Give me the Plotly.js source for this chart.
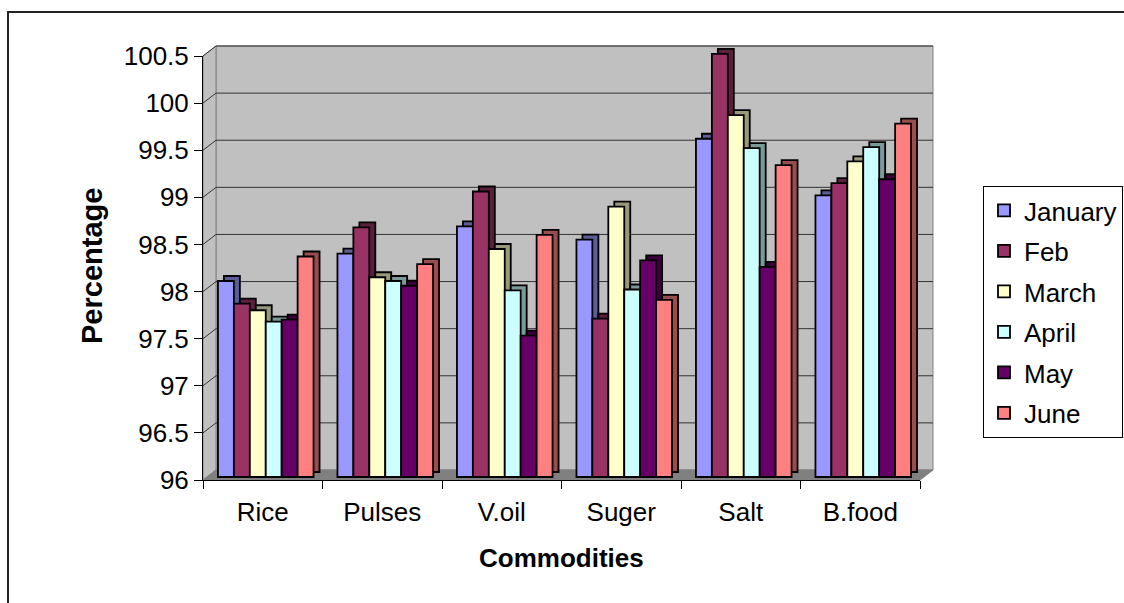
<!DOCTYPE html>
<html>
<head>
<meta charset="utf-8">
<script src="https://cdn.plot.ly/plotly-3.0.1.min.js"></script>
<style>html,body{margin:0;padding:0;background:#fff;}#chart{width:1124px;height:603px;}</style>
</head>
<body>
<div id="chart"></div>
<script>
// ---- data ----
const categories = ["Rice", "Pulses", "V.oil", "Suger", "Salt", "B.food"];
const seriesNames = ["January", "Feb", "March", "April", "May", "June"];
const january = [98.08, 98.37, 98.66, 98.52, 99.59, 98.99];
const feb     = [97.84, 98.65, 99.03, 97.68, 100.49, 99.12];
const march   = [97.77, 98.12, 98.42, 98.87, 99.84, 99.35];
const april   = [97.65, 98.08, 97.98, 97.99, 99.49, 99.50];
const may     = [97.67, 98.03, 97.50, 98.30, 98.23, 99.16];
const june    = [98.34, 98.26, 98.57, 97.88, 99.31, 99.75];
const yTickVals = [96, 96.5, 97, 97.5, 98, 98.5, 99, 99.5, 100, 100.5];
const yTickText = ["96", "96.5", "97", "97.5", "98", "98.5", "99", "99.5", "100", "100.5"];
const frontColors = ["#9999FF", "#993366", "#FFFFCC", "#CCFFFF", "#660066", "#FF8080"];
const sideColors  = ["#5c5c99", "#5c1f3d", "#99997a", "#7a9999", "#3d003d", "#994d4d"];

const seriesValues = [january, feb, march, april, may, june];

// ---- geometry (pixels) ----
const W = 1124, H = 603;
const fx = p => p / W, fy = p => 1 - p / H;
const AX_L = 203, AX_R = 920, Y_BOT = 480, Y_TOP = 56;
const YMIN = 96, YMAX = 100.5;
const K = (Y_BOT - Y_TOP) / (YMAX - YMIN);       // px per unit
const CAT = (AX_R - AX_L) / categories.length;   // px per category
const WALL_DX = 13, WALL_DY = 10;
const FACE_DX = 3, FACE_DY = 3;     // front face of bars
const DEPTH_DX = 6, DEPTH_DY = 5;   // bar depth
const BAR_L = 190, BAR_R = 950, BAR_TOP = 25;

function xRange(shiftPx) {
  return [(BAR_L - AX_L - shiftPx) / CAT - 0.5, (BAR_R - AX_L - shiftPx) / CAT - 0.5];
}
function yRange(shiftPx) {
  const r0 = YMIN - shiftPx / K;
  return [r0, r0 + (Y_BOT - BAR_TOP) / K];
}

const traces = [];
// invisible helper so that the front axis frame is drawn
traces.push({type: 'scatter', x: [0], y: [YMIN], mode: 'none', xaxis: 'x', yaxis: 'y',
  showlegend: false, hoverinfo: 'skip'});
// back (depth) bars
seriesValues.forEach((vals, i) => {
  traces.push({
    type: 'bar', x: categories, y: vals.map(v => v - YMIN), base: YMIN,
    xaxis: 'x2', yaxis: 'y2', showlegend: false, hoverinfo: 'skip',
    marker: {color: sideColors[i], line: {color: '#000', width: 1.8}}
  });
});
// front bars
seriesValues.forEach((vals, i) => {
  traces.push({
    type: 'bar', name: seriesNames[i], x: categories, y: vals.map(v => v - YMIN), base: YMIN,
    xaxis: 'x3', yaxis: 'y3', legendgroup: 'g' + i,
    customdata: vals, hovertemplate: '%{x}: %{customdata}<extra>' + seriesNames[i] + '</extra>',
    marker: {color: frontColors[i], line: {color: '#000', width: 1.8}}
  });
});

// decorative walls/floor
const shapes = [];
const P = (x, y) => fx(x).toFixed(5) + ',' + fy(y).toFixed(5);
const yPix = v => Y_BOT - (v - YMIN) * K;
shapes.push({type: 'path', xref: 'paper', yref: 'paper', layer: 'below',
  path: 'M' + P(AX_L + WALL_DX, Y_TOP - WALL_DY) + 'L' + P(AX_R + WALL_DX, Y_TOP - WALL_DY) + 'L' + P(AX_R + WALL_DX, Y_BOT - WALL_DY) + 'L' + P(AX_L + WALL_DX, Y_BOT - WALL_DY) + 'Z',
  fillcolor: '#C0C0C0', line: {color: '#808080', width: 1}});
shapes.push({type: 'path', xref: 'paper', yref: 'paper', layer: 'below',
  path: 'M' + P(AX_L, Y_TOP) + 'L' + P(AX_L + WALL_DX, Y_TOP - WALL_DY) + 'L' + P(AX_L + WALL_DX, Y_BOT - WALL_DY) + 'L' + P(AX_L, Y_BOT) + 'Z',
  fillcolor: '#C0C0C0', line: {color: '#808080', width: 1}});
shapes.push({type: 'path', xref: 'paper', yref: 'paper', layer: 'below',
  path: 'M' + P(AX_L, Y_BOT) + 'L' + P(AX_L + WALL_DX, Y_BOT - WALL_DY) + 'L' + P(AX_R + WALL_DX, Y_BOT - WALL_DY) + 'L' + P(AX_R, Y_BOT) + 'Z',
  fillcolor: '#808080', line: {color: '#808080', width: 1}});
yTickVals.forEach(v => {
  if (v === YMIN) return;
  const yp = yPix(v);
  shapes.push({type: 'line', xref: 'paper', yref: 'paper', layer: 'below',
    x0: fx(AX_L + WALL_DX), x1: fx(AX_R + WALL_DX), y0: fy(yp - WALL_DY), y1: fy(yp - WALL_DY),
    line: {color: '#333', width: 1}});
  shapes.push({type: 'line', xref: 'paper', yref: 'paper', layer: 'below',
    x0: fx(AX_L), x1: fx(AX_L + WALL_DX), y0: fy(yp), y1: fy(yp - WALL_DY),
    line: {color: '#333', width: 1}});
});
// outer chart frame
shapes.push({type: 'rect', xref: 'paper', yref: 'paper', layer: 'below',
  x0: fx(8), y0: fy(12), x1: 1.2, y1: -0.2, line: {color: '#222', width: 2}});

const font = {family: '"Liberation Sans", Arial, sans-serif', color: '#000'};
const tickFont = Object.assign({}, font, {size: 26});

const layout = {
  width: W, height: H,
  margin: {l: 0, r: 0, t: 0, b: 0, autoexpand: false},
  paper_bgcolor: '#fff', plot_bgcolor: 'rgba(0,0,0,0)',
  font: font,
  barmode: 'group', bargap: 0.2, bargroupgap: 0,
  showlegend: true,
  legend: {x: fx(983), y: fy(186), xanchor: 'left', yanchor: 'top',
    bordercolor: '#000', borderwidth: 1, bgcolor: '#fff',
    font: Object.assign({}, font, {size: 26}), tracegroupgap: 3.7, traceorder: 'grouped'},
  xaxis: {domain: [fx(AX_L), fx(AX_R)], range: [-0.5, categories.length - 0.5],
    tickvals: categories.map((c, i) => i), ticktext: categories, ticks: '',
    ticklabelstandoff: 9,
    minor: {tickvals: categories.map((c, i) => i - 0.5).concat([categories.length - 0.5]), ticks: 'outside', ticklen: 8, tickcolor: '#000', showgrid: false},
    showline: true, linecolor: '#000', linewidth: 1, showgrid: false, zeroline: false,
    tickfont: tickFont, anchor: 'y', fixedrange: true},
  yaxis: {domain: [fy(Y_BOT), fy(Y_TOP)], range: [YMIN, YMAX],
    tickvals: yTickVals, ticktext: yTickText, ticks: 'outside', ticklen: 8, tickcolor: '#000',
    showline: true, linecolor: '#000', linewidth: 1, showgrid: false, zeroline: false,
    tickfont: tickFont, anchor: 'x', fixedrange: true},
  xaxis2: {domain: [fx(BAR_L), fx(BAR_R)], range: xRange(FACE_DX + DEPTH_DX), type: 'category',
    visible: false, anchor: 'y2', fixedrange: true},
  yaxis2: {domain: [fy(Y_BOT), fy(BAR_TOP)], range: yRange(FACE_DY + DEPTH_DY),
    visible: false, anchor: 'x2', fixedrange: true},
  xaxis3: {domain: [fx(BAR_L), fx(BAR_R)], range: xRange(FACE_DX), type: 'category',
    visible: false, anchor: 'y3', overlaying: 'x2', fixedrange: true},
  yaxis3: {domain: [fy(Y_BOT), fy(BAR_TOP)], range: yRange(FACE_DY),
    visible: false, anchor: 'x3', overlaying: 'y2', fixedrange: true},
  shapes: shapes,
  annotations: [
    {text: '<b>Percentage</b>', xref: 'paper', yref: 'paper', x: fx(92), y: fy(266),
     textangle: -90, showarrow: false, font: Object.assign({}, font, {size: 29}), xanchor: 'center', yanchor: 'middle'},
    {text: '<b>Commodities</b>', xref: 'paper', yref: 'paper', x: fx(561), y: fy(558),
     showarrow: false, font: Object.assign({}, font, {size: 26}), xanchor: 'center', yanchor: 'middle'}
  ]
};

Plotly.newPlot('chart', traces, layout, {displayModeBar: false});
</script>
</body>
</html>
